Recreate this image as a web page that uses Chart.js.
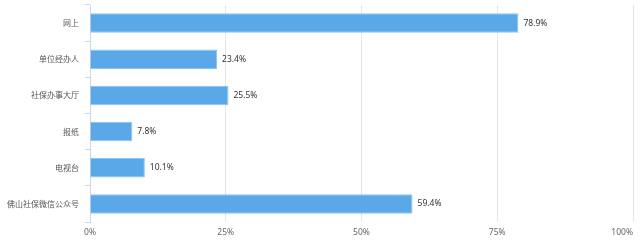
<!DOCTYPE html>
<html>
<head>
<meta charset="utf-8">
<script src="https://cdn.jsdelivr.net/npm/chart.js@4"></script>
<style>
  html, body { margin: 0; padding: 0; background: #fff; }
  #wrap { width: 640px; height: 246px; }
</style>
</head>
<body>
<div id="wrap"><canvas id="barChart"></canvas></div>
<script>
const categories = ['网上', '单位经办人', '社保办事大厅', '报纸', '电视台', '佛山社保微信公众号'];
const shares = [78.9, 23.4, 25.5, 7.8, 10.1, 59.4];
const xTicks = [0, 25, 50, 75, 100];

const fontFamily = '"Noto Sans CJK SC", "Noto Sans", sans-serif';
const numFont = '8.5px "Noto Sans", "Noto Sans CJK SC", sans-serif';

// values next to bar ends, and x labels (the last one kept inside the canvas)
const textLayer = {
    id: 'textLayer',
    afterDatasetsDraw(chart) {
        const ctx = chart.ctx;
        const meta = chart.getDatasetMeta(0);
        const xs = chart.scales.x;
        ctx.save();
        ctx.font = numFont;
        ctx.fillStyle = '#333';
        ctx.textBaseline = 'middle';
        ctx.textAlign = 'left';
        meta.data.forEach((bar, i) => {
            ctx.fillText(shares[i].toFixed(1) + '%', bar.x + 5, bar.y);
        });
        ctx.fillStyle = '#666';
        xTicks.forEach((v, i) => {
            const px = xs.getPixelForValue(v);
            ctx.textAlign = i === xTicks.length - 1 ? 'right' : 'center';
            ctx.fillText(v + '%', px, chart.chartArea.bottom + 11);
        });
        ctx.restore();
    }
};

const barCtx = document.getElementById('barChart').getContext('2d');
new Chart(barCtx, {
    type: 'bar',
    data: {
        labels: categories,
        datasets: [{
            data: shares,
            backgroundColor: '#5aa8e8',
            borderColor: '#8cc3f0',
            borderWidth: 1,
            categoryPercentage: 1,
            barPercentage: 0.54
        }]
    },
    options: {
        indexAxis: 'y',
        responsive: true,
        maintainAspectRatio: false,
        animation: false,
        layout: { padding: { top: 5, right: 0, bottom: 0, left: 0 } },
        scales: {
            x: {
                min: 0,
                max: 100,
                afterBuildTicks(scale) {
                    scale.ticks = xTicks.map(v => ({ value: v }));
                },
                afterFit(scale) {
                    scale.height = 24;
                    scale.paddingLeft = 0;
                    scale.paddingRight = 7;
                },
                grid: { color: '#e6e6e6', drawTicks: false },
                border: { display: false },
                ticks: { display: false }
            },
            y: {
                afterFit(scale) {
                    scale.width = 90;
                    scale.paddingTop = 0;
                    scale.paddingBottom = 0;
                },
                grid: { drawOnChartArea: false, color: '#ccd6eb', tickLength: 5 },
                border: { color: '#ccd6eb' },
                ticks: {
                    padding: 6,
                    color: '#555',
                    font: { size: 8, family: fontFamily }
                }
            }
        },
        plugins: {
            legend: { display: false },
            tooltip: { enabled: false }
        }
    },
    plugins: [textLayer]
});
</script>
</body>
</html>
